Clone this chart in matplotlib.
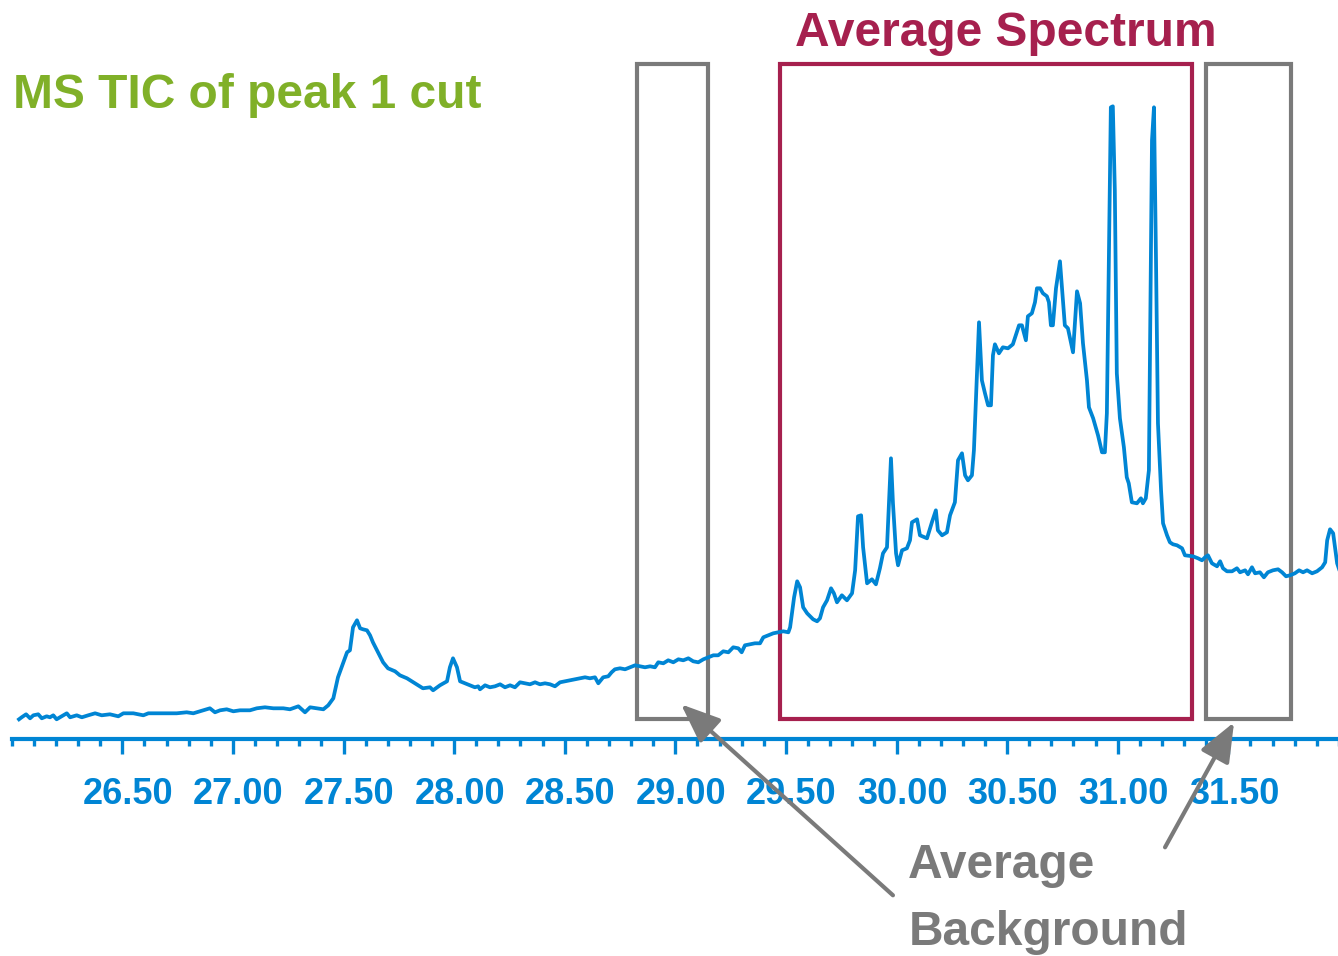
import matplotlib
matplotlib.use("Agg")
import matplotlib.pyplot as plt
from matplotlib.patches import Rectangle
from matplotlib.ticker import MultipleLocator, FixedLocator
import matplotlib.transforms as mtransforms

plt.rcParams['font.family'] = ['Liberation Sans', 'DejaVu Sans']

# ---------------- data (retention time in min, TIC intensity, arbitrary units) -------------
time_min = [
    26.033, 26.045, 26.065, 26.083, 26.098, 26.120, 26.136, 26.158, 26.173, 26.188,
    26.203, 26.218, 26.249, 26.264, 26.294, 26.317, 26.346, 26.377, 26.407, 26.444,
    26.482, 26.505, 26.550, 26.595, 26.618, 26.656, 26.701, 26.746, 26.791, 26.821,
    26.851, 26.896, 26.919, 26.942, 26.972, 27.002, 27.032, 27.077, 27.108, 27.145,
    27.183, 27.228, 27.258, 27.296, 27.326, 27.349, 27.379, 27.409, 27.431, 27.454,
    27.475, 27.516, 27.529, 27.543, 27.561, 27.575, 27.588, 27.606, 27.620, 27.633,
    27.656, 27.679, 27.701, 27.733, 27.755, 27.787, 27.823, 27.859, 27.891, 27.905,
    27.936, 27.968, 27.981, 27.995, 28.013, 28.027,
    28.072, 28.094, 28.109, 28.117, 28.140, 28.162, 28.185, 28.208, 28.230, 28.253,
    28.275, 28.298, 28.321, 28.343, 28.366, 28.388, 28.411, 28.434, 28.456, 28.479,
    28.501, 28.524, 28.547, 28.569, 28.592, 28.614, 28.637, 28.652, 28.674, 28.697,
    28.712, 28.727, 28.750, 28.773, 28.795, 28.818, 28.841, 28.863, 28.886, 28.908,
    28.923, 28.946, 28.968, 28.991, 29.014, 29.036, 29.059, 29.081, 29.104, 29.127,
    29.149, 29.172, 29.194, 29.217, 29.240, 29.262, 29.285, 29.300, 29.315, 29.338,
    29.360, 29.383, 29.398, 29.420, 29.443, 29.466, 29.488, 29.511,
    29.519, 29.537, 29.551, 29.564,
    29.578, 29.596, 29.623, 29.641, 29.654, 29.668, 29.686, 29.704, 29.717, 29.731,
    29.753, 29.776, 29.799, 29.813, 29.826, 29.840, 29.849, 29.867, 29.889, 29.907,
    29.925, 29.939, 29.957, 29.966, 29.975, 29.984, 29.998, 30.007, 30.025, 30.047,
    30.061, 30.070, 30.093, 30.106, 30.138, 30.160, 30.178, 30.187, 30.206, 30.228,
    30.242, 30.264, 30.278, 30.296, 30.310, 30.323, 30.341, 30.350, 30.373, 30.386,
    30.400, 30.414, 30.427, 30.436, 30.445, 30.463, 30.481, 30.504, 30.526, 30.554,
    30.567, 30.585, 30.594, 30.612, 30.626, 30.635, 30.649, 30.662, 30.680, 30.689,
    30.698, 30.707, 30.721, 30.739, 30.761, 30.775, 30.798, 30.816, 30.830, 30.843,
    30.861, 30.870, 30.889, 30.911, 30.929, 30.942, 30.951, 30.960, 30.969, 30.978,
    30.987, 30.996, 31.010, 31.028, 31.041, 31.050, 31.064, 31.087, 31.105, 31.114,
    31.127, 31.141, 31.150, 31.155, 31.164, 31.173, 31.182, 31.196, 31.205, 31.223,
    31.236, 31.250, 31.268, 31.291, 31.304, 31.340, 31.363, 31.381, 31.395, 31.408,
    31.426, 31.449, 31.463, 31.476, 31.494, 31.517, 31.539, 31.553, 31.576, 31.589,
    31.607, 31.621, 31.643, 31.661, 31.679, 31.702, 31.725, 31.743, 31.761, 31.779,
    31.801, 31.820, 31.838, 31.856, 31.879, 31.901, 31.924, 31.938, 31.947, 31.960,
    31.974, 31.992, 32.001,
]
tic_intensity = [
    20, 22, 25, 21, 24, 25, 21, 23, 22, 24,
    20, 22, 26, 22, 24, 22, 24, 26, 24, 25,
    23, 26, 26, 24, 26, 26, 26, 26, 27, 26,
    28, 31, 27, 29, 30, 28, 29, 29, 31, 32,
    31, 31, 30, 33, 27, 32, 31, 30, 34, 41,
    62, 87, 89, 112, 119, 111, 110, 109, 104, 97,
    87, 77, 71, 68, 64, 61, 56, 51, 52, 49,
    54, 58, 72, 81, 72, 58,
    54, 52, 53, 50, 54, 52, 53, 55, 52, 54,
    52, 57, 56, 55, 57, 55, 56, 55, 53, 57,
    58, 59, 60, 61, 62, 61, 62, 56, 62, 63,
    67, 70, 71, 70, 72, 74, 73, 72, 73, 72,
    77, 76, 79, 77, 80, 79, 81, 78, 77, 80,
    82, 84, 84, 88, 87, 92, 91, 87, 94, 95,
    96, 96, 102, 104, 106, 107, 108, 107,
    112, 142, 158, 152,
    132, 126, 120, 118, 121, 132, 139, 151, 146, 137,
    144, 139, 146, 169, 223, 224, 192, 156, 160, 155,
    171, 186, 192, 236, 281, 236, 186, 174, 189, 191,
    199, 217, 220, 204, 201, 217, 229, 209, 204, 207,
    224, 237, 279, 286, 264, 259, 264, 289, 417, 359,
    346, 334, 334, 384, 395, 386, 392, 391, 395, 414,
    414, 399, 423, 426, 437, 451, 451, 446, 443, 437,
    414, 414, 451, 478, 414, 411, 387, 448, 436, 396,
    359, 332, 321, 304, 287, 287, 326, 482, 632, 633,
    549, 366, 321, 292, 262, 256, 237, 236, 241, 236,
    241, 269, 482, 599, 632, 482, 316, 249, 216, 204,
    197, 195, 194, 191, 184, 183, 181, 179, 182, 184,
    176, 173, 178, 171, 168, 168, 171, 167, 169, 165,
    172, 166, 167, 162, 167, 169, 170, 167, 163, 164,
    166, 169, 167, 169, 166, 168, 172, 177, 199, 210,
    206, 176, 170,
]

# time windows used for averaging (min)
background_windows = [(28.826, 29.149), (31.399, 31.783)]
spectrum_window = (29.473, 31.335)
window_low, window_high = 20.5, 675

major_ticks = [26.5, 27.0, 27.5, 28.0, 28.5, 29.0, 29.5, 30.0, 30.5, 31.0, 31.5]
tick_labels = ["26.50", "27.00", "27.50", "28.00", "28.50", "29.00",
               "29.50", "30.00", "30.50", "31.00", "31.50"]

# ---------------- styling ---------------------
BLUE = '#0085D4'
GREEN = '#80B028'
MAROON = '#A6204E'
GRAY = '#7A7A7A'

W, H = 1338, 956
fig = plt.figure(figsize=(W / 100, H / 100), dpi=100)
ax = fig.add_axes([11.7 / W, (H - 739.3) / H, (1338.9 - 11.7) / W, 739.3 / H])

ax.plot(time_min, tic_intensity, color=BLUE, lw=2.7, solid_joinstyle='round', zorder=3)
ax.set_xlim(26.0, 32.0)
ax.set_ylim(0, 739.3)

for s in ['top', 'left', 'right']:
    ax.spines[s].set_visible(False)
ax.spines['bottom'].set_color(BLUE)
ax.spines['bottom'].set_linewidth(3)
ax.set_yticks([])

ax.xaxis.set_major_locator(FixedLocator(major_ticks))
ax.set_xticklabels(tick_labels)
ax.xaxis.set_minor_locator(MultipleLocator(0.1))
ax.tick_params(axis='x', which='major', direction='out', length=11, width=2.4,
               color=BLUE, labelcolor=BLUE, labelsize=26, pad=16)
ax.tick_params(axis='x', which='minor', direction='out', length=5, width=2.4, color=BLUE)
offset = mtransforms.ScaledTranslation(5.6 / 100, 0, fig.dpi_scale_trans)
for lab in ax.get_xticklabels():
    lab.set_fontweight('bold')
    lab.set_transform(lab.get_transform() + offset)

# windows
for (a, b) in background_windows:
    ax.add_patch(Rectangle((a, window_low), b - a, window_high - window_low,
                           fill=False, ec=GRAY, lw=3, zorder=2, joinstyle='miter'))
a, b = spectrum_window
ax.add_patch(Rectangle((a, window_low), b - a, window_high - window_low,
                       fill=False, ec=MAROON, lw=3, zorder=2, joinstyle='miter'))

# arrows
arrow_kw = dict(arrowstyle='-|>,head_length=1.6,head_width=0.65', color=GRAY, lw=3,
                shrinkA=0, shrinkB=0, mutation_scale=15)
ax.annotate('', xy=(29.026, 35), xytext=(29.984, -156),
            arrowprops=arrow_kw, annotation_clip=False)
ax.annotate('', xy=(31.526, 17), xytext=(31.214, -108),
            arrowprops=arrow_kw, annotation_clip=False)

# texts (figure pixel positions)
def ftext(x, y, s, color):
    fig.text(x / W, 1 - y / H, s, color=color, fontsize=34.5, fontweight='bold',
             ha='left', va='baseline')

ftext(13, 107.5, "MS TIC of peak 1 cut", GREEN)
ftext(795, 46, "Average Spectrum", MAROON)
ftext(908, 878.5, "Average", GRAY)
ftext(909, 945, "Background", GRAY)

fig.savefig("out.png", dpi=100)
